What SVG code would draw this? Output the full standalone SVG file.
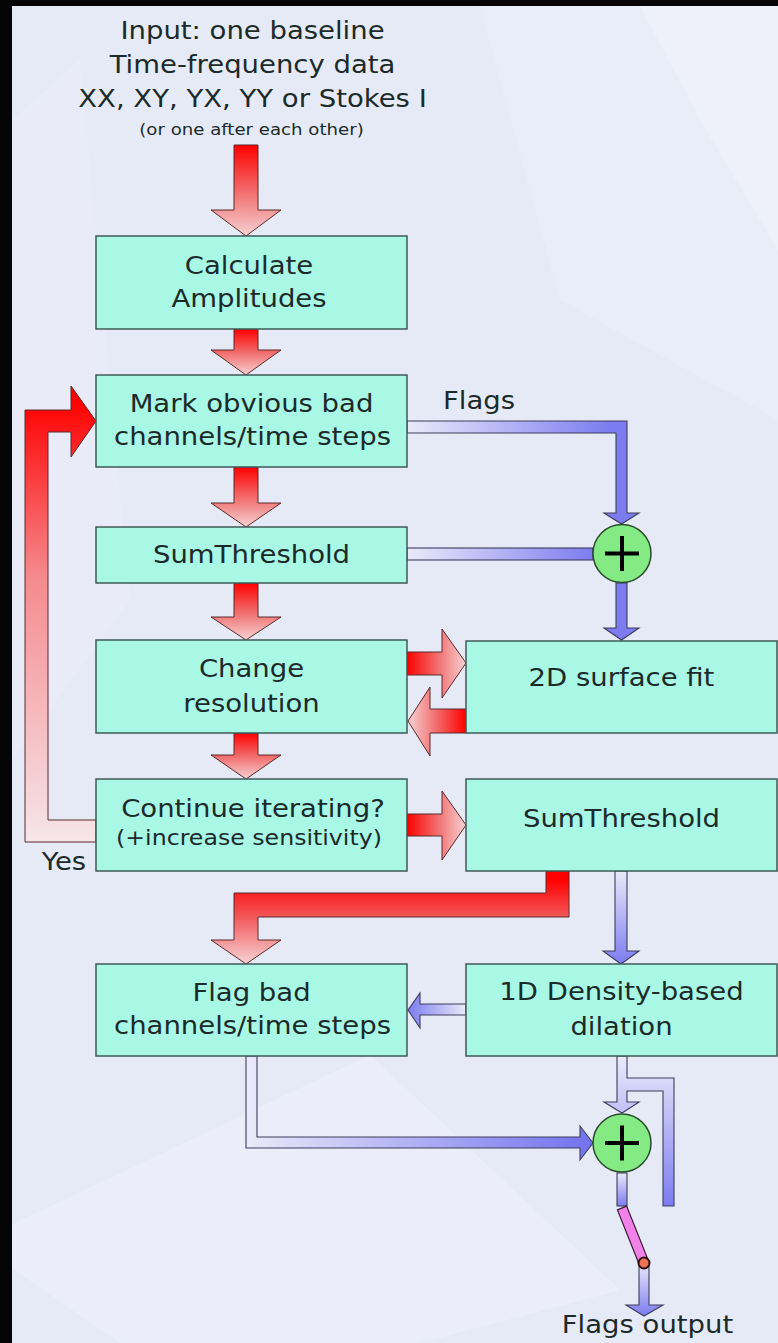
<svg xmlns="http://www.w3.org/2000/svg" width="778" height="1343" viewBox="0 0 778 1343">
  <defs>
    <style>
      .box { fill: #a9f7e5; stroke: #3f5a58; stroke-width: 1.5; }
      .t { font-family: "DejaVu Sans", "Noto Sans", sans-serif; font-size: 25px; fill: #1c2a2a; text-anchor: middle; }
      .s { font-size: 21.5px; }
      .xs { font-size: 16.5px; }
      .red { stroke: #5a2a2a; stroke-width: 1; stroke-linejoin: miter; }
      .blue { stroke: #3c3c5c; stroke-width: 1.1; stroke-linejoin: miter; }
      .sum { fill: #84ea84; stroke: #2b4a2b; stroke-width: 1.5; }
      .plus { stroke: #000; stroke-width: 4; }
    </style>
    <!-- red block arrows: saturated at the tail, pale at the head -->
    <linearGradient id="rDown" x1="0" y1="0" x2="0" y2="1">
      <stop offset="0" stop-color="#ff0000"/>
      <stop offset="0.5" stop-color="#f26a6a"/>
      <stop offset="1" stop-color="#f6d2d4"/>
    </linearGradient>
    <linearGradient id="rRight" x1="0" y1="0" x2="1" y2="0">
      <stop offset="0" stop-color="#ff0000"/>
      <stop offset="0.5" stop-color="#f26a6a"/>
      <stop offset="1" stop-color="#f6d2d4"/>
    </linearGradient>
    <linearGradient id="rLeft" x1="1" y1="0" x2="0" y2="0">
      <stop offset="0" stop-color="#ff0000"/>
      <stop offset="0.5" stop-color="#f26a6a"/>
      <stop offset="1" stop-color="#f6d2d4"/>
    </linearGradient>
    <linearGradient id="rLoop" gradientUnits="userSpaceOnUse" x1="0" y1="842" x2="0" y2="400">
      <stop offset="0" stop-color="#f6e6ea"/>
      <stop offset="0.6" stop-color="#f58a8e"/>
      <stop offset="1" stop-color="#ff0000"/>
    </linearGradient>
    <linearGradient id="rBend" gradientUnits="userSpaceOnUse" x1="0" y1="880" x2="0" y2="964">
      <stop offset="0" stop-color="#ff0000"/>
      <stop offset="0.45" stop-color="#f25a5c"/>
      <stop offset="1" stop-color="#f6d2d4"/>
    </linearGradient>
    <!-- blue flag pipes: pale at the source, blue at the destination -->
    <linearGradient id="bFlags" gradientUnits="userSpaceOnUse" x1="407" y1="0" x2="610" y2="0">
      <stop offset="0" stop-color="#eaeafa"/>
      <stop offset="1" stop-color="#7c7cf0"/>
    </linearGradient>
    <linearGradient id="bSum" gradientUnits="userSpaceOnUse" x1="407" y1="0" x2="593" y2="0">
      <stop offset="0" stop-color="#eaeafa"/>
      <stop offset="1" stop-color="#7c7cf0"/>
    </linearGradient>
    <linearGradient id="bDown" x1="0" y1="0" x2="0" y2="1">
      <stop offset="0" stop-color="#eaeafa"/>
      <stop offset="1" stop-color="#7c7cf0"/>
    </linearGradient>
    <linearGradient id="bLeft" x1="1" y1="0" x2="0" y2="0">
      <stop offset="0" stop-color="#eaeafa"/>
      <stop offset="1" stop-color="#7c7cf0"/>
    </linearGradient>
    <linearGradient id="bMerge" gradientUnits="userSpaceOnUse" x1="246" y1="0" x2="593" y2="0">
      <stop offset="0" stop-color="#eaeafa"/>
      <stop offset="1" stop-color="#7272ee"/>
    </linearGradient>
    <linearGradient id="bBypass" gradientUnits="userSpaceOnUse" x1="0" y1="1056" x2="0" y2="1206">
      <stop offset="0" stop-color="#eaeafa"/>
      <stop offset="1" stop-color="#7c7cf0"/>
    </linearGradient>
  </defs>

  <!-- page -->
  <rect x="0" y="0" width="778" height="1343" fill="#e6eaf7"/>
  <g fill="#ffffff">
    <polygon points="640,6 778,6 778,250 700,120" opacity="0.35"/>
    <polygon points="480,6 640,6 700,120 778,250 778,420 560,300" opacity="0.15"/>
    <polygon points="370,1055 620,1290 420,1343 120,1343 0,1260 0,1230" opacity="0.22"/>
    <polygon points="12,120 80,60 130,600 12,760" opacity="0.12"/>
  </g>
  <rect x="0" y="0" width="12" height="1343" fill="#050505"/>
  <rect x="0" y="0" width="778" height="6" fill="#050505"/>

  <!-- input description -->
  <g id="input">
    <text class="t" transform="translate(252.5,39) scale(1.1,1)">Input: one baseline</text>
    <text class="t" transform="translate(252.5,73) scale(1.1,1)">Time-frequency data</text>
    <text class="t" transform="translate(252.5,107) scale(1.1,1)">XX, XY, YX, YY or Stokes I</text>
    <text class="t xs" transform="translate(251.5,135) scale(1.1,1)">(or one after each other)</text>
  </g>

  <!-- connectors -->
  <g id="connectors">
    <!-- main data path -->
    <polygon class="red" fill="url(#rDown)" points="234,145 258,145 258,210 281,210 246,236 211,210 234,210"/>
    <polygon class="red" fill="url(#rDown)" points="234,329 258,329 258,350 281,350 246,375 211,350 234,350"/>
    <polygon class="red" fill="url(#rDown)" points="234,467 258,467 258,503 281,503 246,527 211,503 234,503"/>
    <polygon class="red" fill="url(#rDown)" points="234,583 258,583 258,617 281,617 246,640 211,617 234,617"/>
    <polygon class="red" fill="url(#rDown)" points="234,733 258,733 258,755 281,755 246,779 211,755 234,755"/>
    <polygon class="red" fill="url(#rRight)" points="407,652 442,652 442,629 466,663 442,698 442,675 407,675"/>
    <polygon class="red" fill="url(#rLeft)" points="466,709 430,709 430,687 408,721 430,756 430,733 466,733"/>
    <polygon class="red" fill="url(#rRight)" points="407,814 442,814 442,791 466,825 442,860 442,836 407,836"/>
    <!-- iteration loop -->
    <polygon class="red" fill="url(#rLoop)" points="96,820 48,820 48,432 71,432 71,457 96,421 71,386 71,410 25,410 25,842 96,842"/>
    <polygon class="red" fill="url(#rBend)" points="546,871 569,871 569,917 258,917 258,940 281,940 246,964 211,940 234,940 234,893 546,893"/>

    <!-- flag paths -->
    <polygon class="blue" fill="url(#bFlags)" points="407,421 627,421 627,513 639,513 621.5,524 604,513 616,513 616,433 407,433"/>
    <rect class="blue" fill="url(#bSum)" x="407" y="548" width="186" height="12"/>
    <polygon class="blue" fill="#7c7cf0" points="616,583 627,583 627,628 639,628 621.5,640 604,628 616,628"/>
    <polygon class="blue" fill="url(#bDown)" points="615,871 627,871 627,951 639,951 621,964 603,951 615,951"/>
    <polygon class="blue" fill="url(#bLeft)" points="466,1004 420,1004 420,993 408,1010 420,1028 420,1015 466,1015"/>
    <polygon class="blue" fill="url(#bMerge)" points="246,1056 257,1056 257,1137 580,1137 580,1126 593,1143 580,1160 580,1148 246,1148"/>
    <polygon class="blue" fill="url(#bBypass)" points="617,1056 627,1056 627,1078 674,1078 674,1206 663,1206 663,1091 627,1091 627,1102 639,1102 622,1113 604,1102 617,1102"/>
    <rect class="blue" fill="url(#bDown)" x="617" y="1173" width="10" height="33"/>
    <polygon class="blue" fill="url(#bDown)" points="639,1263 649,1263 649,1305 663,1305 644,1316 626,1305 639,1305"/>
    <!-- output switch -->
    <polygon fill="#f282ea" stroke="#3a1a30" stroke-width="1.2" points="617.4,1209.9 626.6,1206.1 648.6,1261.1 639.4,1264.9"/>
    <circle cx="644" cy="1263" r="5.5" fill="#f27256" stroke="#2a0e0e" stroke-width="2"/>
  </g>

  <!-- processing steps -->
  <g id="calc-amplitudes">
    <rect class="box" x="96" y="236" width="311" height="93"/>
    <text class="t" transform="translate(249,274) scale(1.1,1)">Calculate</text>
    <text class="t" transform="translate(249,307) scale(1.1,1)">Amplitudes</text>
  </g>
  <g id="mark-bad">
    <rect class="box" x="96" y="375" width="311" height="92"/>
    <text class="t" transform="translate(251.5,412) scale(1.1,1)">Mark obvious bad</text>
    <text class="t" transform="translate(252.5,445) scale(1.1,1)">channels/time steps</text>
  </g>
  <g id="sumthreshold-1">
    <rect class="box" x="96" y="527" width="311" height="56"/>
    <text class="t" transform="translate(251.5,563) scale(1.1,1)">SumThreshold</text>
  </g>
  <g id="change-resolution">
    <rect class="box" x="96" y="640" width="311" height="93"/>
    <text class="t" transform="translate(251.5,677) scale(1.1,1)">Change</text>
    <text class="t" transform="translate(251.5,712) scale(1.1,1)">resolution</text>
  </g>
  <g id="surface-fit">
    <rect class="box" x="466" y="641" width="311" height="92"/>
    <text class="t" transform="translate(621.5,686) scale(1.1,1)">2D surface fit</text>
  </g>
  <g id="continue">
    <rect class="box" x="96" y="779" width="311" height="92"/>
    <text class="t" transform="translate(253,817) scale(1.1,1)">Continue iterating?</text>
    <text class="t s" transform="translate(249,845) scale(1.1,1)">(+increase sensitivity)</text>
  </g>
  <g id="sumthreshold-2">
    <rect class="box" x="466" y="779" width="311" height="92"/>
    <text class="t" transform="translate(621.5,827) scale(1.1,1)">SumThreshold</text>
  </g>
  <g id="flag-bad">
    <rect class="box" x="96" y="964" width="311" height="92"/>
    <text class="t" transform="translate(251.5,1001) scale(1.1,1)">Flag bad</text>
    <text class="t" transform="translate(252.5,1034) scale(1.1,1)">channels/time steps</text>
  </g>
  <g id="dilation">
    <rect class="box" x="466" y="964" width="311" height="92"/>
    <text class="t" transform="translate(621.5,1000) scale(1.1,1)">1D Density-based</text>
    <text class="t" transform="translate(621.5,1035) scale(1.1,1)">dilation</text>
  </g>

  <!-- flag combiners -->
  <g id="or-1">
    <circle class="sum" cx="622" cy="553.5" r="29"/>
    <line class="plus" x1="605" y1="553.5" x2="639" y2="553.5"/>
    <line class="plus" x1="622" y1="536" x2="622" y2="571"/>
  </g>
  <g id="or-2">
    <circle class="sum" cx="622" cy="1143" r="29"/>
    <line class="plus" x1="605" y1="1143" x2="639" y2="1143"/>
    <line class="plus" x1="622" y1="1125.5" x2="622" y2="1160.5"/>
  </g>

  <!-- labels -->
  <g id="labels">
    <text class="t" style="text-anchor:start" transform="translate(443,409) scale(1.1,1)">Flags</text>
    <text class="t" transform="translate(64,870) scale(1.1,1)">Yes</text>
    <text class="t" transform="translate(647.5,1333) scale(1.1,1)">Flags output</text>
  </g>
</svg>
